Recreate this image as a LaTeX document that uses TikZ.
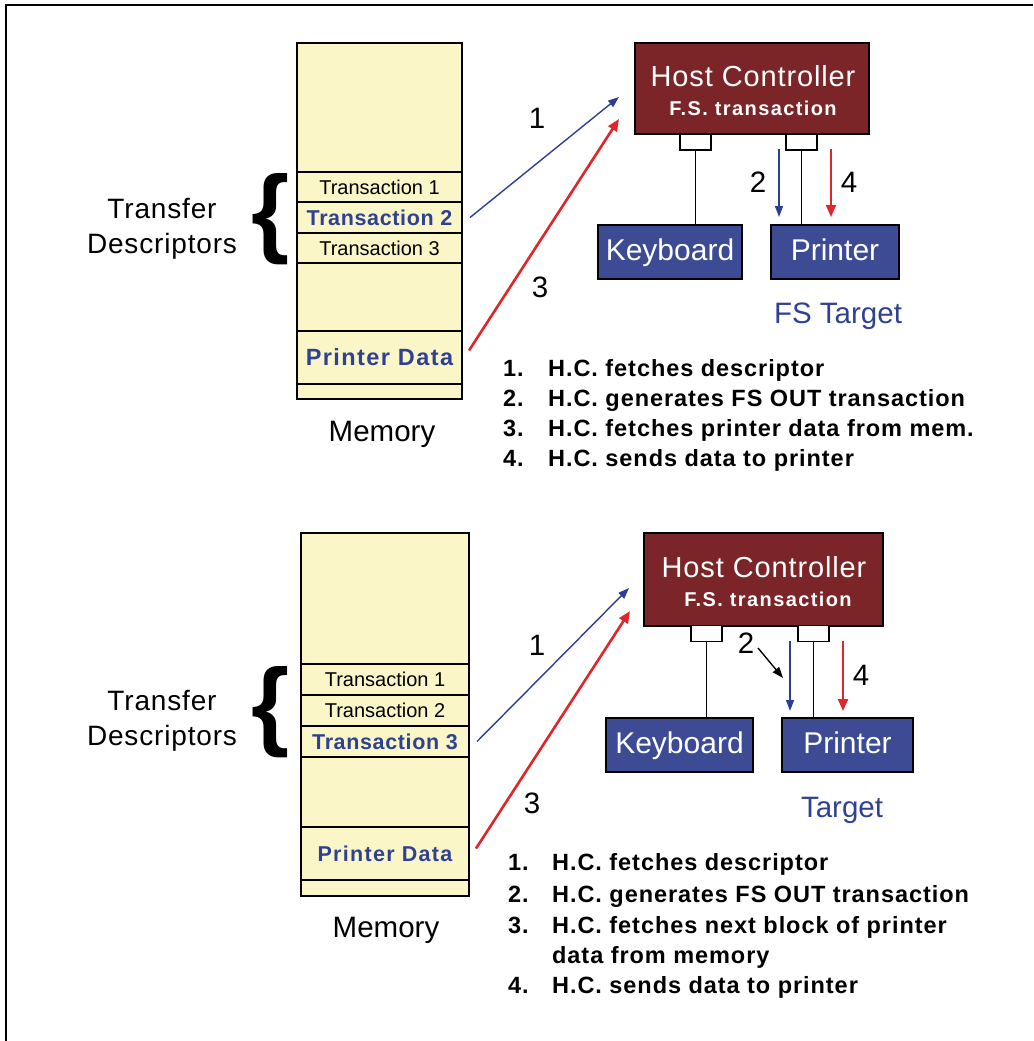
\documentclass[tikz,border=0pt]{standalone}
\usepackage{fontspec}
\setmainfont{Liberation Sans}
\newfontfamily\trackA[LetterSpace=3]{Liberation Sans}
\newfontfamily\trackB[LetterSpace=4]{Liberation Sans}
\newfontfamily\trackP[LetterSpace=6]{Liberation Sans}
\newfontfamily\trackC[LetterSpace=7]{Liberation Sans}
\usetikzlibrary{arrows.meta}
\definecolor{memfill}{HTML}{FAF6C8}
\definecolor{hcred}{HTML}{7B2529}
\definecolor{devblue}{HTML}{3C4B94}
\definecolor{txtblue}{HTML}{2F4192}
\definecolor{arrblue}{HTML}{2C3F94}
\definecolor{arrred}{HTML}{E0262B}
\newcommand\fsz[1]{\fontsize{#1}{#1}\selectfont}
\begin{document}
\begin{tikzpicture}[x=1pt,y=-1pt,
  cell/.style={draw=black, fill=memfill, line width=1.2pt, inner sep=0pt, outer sep=0pt, anchor=north west},
  plaintx/.style={font=\fsz{20}},
  boldtx/.style={font=\trackA\bfseries\fsz{21.5}, text=txtblue},
  hcbox/.style={draw=black, fill=hcred, line width=1.2pt, inner sep=0pt},
  hctitle/.style={text=white, font=\trackA\fsz{29}, inner sep=0pt},
  hcsub/.style={text=white, font=\trackC\bfseries\fsz{20}, inner sep=0pt},
  port/.style={draw=black, fill=white, line width=1.2pt, inner sep=0pt, minimum width=31pt, minimum height=16pt},
  dev/.style={draw=black, fill=devblue, line width=1.2pt, inner sep=0pt, text=white, font=\fsz{30}, minimum height=54pt, text height=16pt, text depth=0pt},
  wire/.style={line width=1.4pt},
  lbl/.style={font=\fsz{29.5}, inner sep=0pt},
  targ/.style={font=\fsz{29.5}, text=txtblue, inner sep=0pt},
  tdesc/.style={font=\trackA\fsz{28}, align=center, inner sep=0pt},
  brace/.style={font=\bfseries\fsz{98}, inner sep=0pt},
  item/.style={font=\trackB\bfseries\fsz{23.5}, inner sep=0pt, anchor=base west},
  bluearr/.style={draw=arrblue, line width=1.4pt, -{Triangle[length=11pt,width=8pt]}},
  redarr/.style={draw=arrred, line width=2.6pt, -{Triangle[length=12pt,width=10pt]}},
  blackarr/.style={draw=black, line width=1.4pt, -{Triangle[length=11pt,width=8pt]}}
]
\useasboundingbox (0,0) rectangle (1033,1041);
% frame
\draw[line width=2.6pt] (6,1041) -- (6,5) -- (1033,5);

% ================= upper scene =================
% memory column
\node[cell, minimum width=165pt, minimum height=129pt] (ma0) at (297,43) {};
\node[cell, minimum width=165pt, minimum height=30pt, plaintx] (ta1) at (297,172) {Transaction 1};
\node[cell, minimum width=165pt, minimum height=31pt, boldtx] (ta2) at (297,202) {Transaction 2};
\node[cell, minimum width=165pt, minimum height=30pt, plaintx] (ta3) at (297,233) {Transaction 3};
\node[cell, minimum width=165pt, minimum height=68pt] (ma4) at (297,263) {};
\node[cell, minimum width=165pt, minimum height=53pt, font=\trackP\bfseries\fsz{23.5}, text=txtblue] (pda) at (297,331) {Printer Data};
\node[cell, minimum width=165pt, minimum height=15pt] (ma6) at (297,384) {};
\node[lbl] (mema) at (382,434) {Memory};
\node[brace] (bra) at (271,219) {\{};
\node[tdesc] (tda) at (162,229) {Transfer\\[7pt]Descriptors};

% host controller and devices
\node[hcbox, minimum width=234pt, minimum height=91pt] (hca) at (752,88.5) {};
\node[hctitle] (hcat) at (753,76) {Host Controller};
\node[hcsub] (hcas) at (753,108) {F.S. transaction};
\node[port] (pa1) at (695.5,142) {};
\node[port] (pa2) at (801.5,142) {};
\node[dev, minimum width=144pt] (kba) at (670,252) {Keyboard};
\node[dev, minimum width=128pt] (pra) at (835,252) {Printer};
\draw[wire] (pa1.south) -- (pa1.south |- kba.north);
\draw[wire] (pa2.south) -- (pa2.south |- pra.north);
\node[targ] (fsa) at (838,316) {FS Target};

% transfer steps
\coordinate (a1e) at (619,97);
\coordinate (a3e) at (619,119);
\draw[bluearr] ([xshift=8pt]ta2.east) -- (a1e);
\draw[redarr] ([xshift=7pt,yshift=7pt]pda.east) -- (a3e);
\node[lbl] (na1) at (537,118) {1};
\node[lbl] (na3) at (540,287) {3};
\coordinate (a2s) at (779,149);
\coordinate (a2e) at (779,217);
\coordinate (a4s) at (831,149);
\coordinate (a4e) at (831,217);
\draw[bluearr] (a2s) -- (a2e);
\draw[redarr, line width=2pt] (a4s) -- (a4e);
\node[lbl] (na2) at (758,182) {2};
\node[lbl] (na4) at (849,182) {4};

% step list
\node[item] (la1n) at (503,376) {1.};
\node[item] (la1t) at (548,376) {H.C. fetches descriptor};
\node[item] (la2n) at (503,406) {2.};
\node[item] (la2t) at (548,406) {H.C. generates FS OUT transaction};
\node[item] (la3n) at (503,436) {3.};
\node[item] (la3t) at (548,436) {H.C. fetches printer data from mem.};
\node[item] (la4n) at (503,466) {4.};
\node[item] (la4t) at (548,466) {H.C. sends data to printer};

% ================= lower scene =================
\node[cell, minimum width=168pt, minimum height=131pt] (mb0) at (301,533) {};
\node[cell, minimum width=168pt, minimum height=31pt, plaintx] (tb1) at (301,664) {Transaction 1};
\node[cell, minimum width=168pt, minimum height=31pt, plaintx] (tb2) at (301,695) {Transaction 2};
\node[cell, minimum width=168pt, minimum height=31pt, boldtx] (tb3) at (301,726) {Transaction 3};
\node[cell, minimum width=168pt, minimum height=70pt] (mb4) at (301,757) {};
\node[cell, minimum width=168pt, minimum height=53pt, font=\trackP\bfseries\fsz{21.5}, text=txtblue] (pdb) at (301,827) {Printer Data};
\node[cell, minimum width=168pt, minimum height=16pt] (mb6) at (301,880) {};
\node[lbl] (memb) at (386,930) {Memory};
\node[brace] (brb) at (271,712) {\{};
\node[tdesc] (tdb) at (162,721) {Transfer\\[7pt]Descriptors};

\node[hcbox, minimum width=239pt, minimum height=93pt] (hcb) at (763.5,579.5) {};
\node[hctitle] (hcbt) at (764,567) {Host Controller};
\node[hcsub] (hcbs) at (768,599) {F.S. transaction};
\node[port] (pb1) at (706.5,633.5) {};
\node[port] (pb2) at (813.5,633.5) {};
\node[dev, minimum width=147pt] (kbb) at (679.5,745) {Keyboard};
\node[dev, minimum width=131pt] (prb) at (847.5,745) {Printer};
\draw[wire] (pb1.south) -- (pb1.south |- kbb.north);
\draw[wire] (pb2.south) -- (pb2.south |- prb.north);
\node[targ] (tgb) at (842,810) {Target};

\coordinate (b1e) at (629,588);
\coordinate (b3e) at (630,611);
\draw[bluearr] ([xshift=8pt]tb3.east) -- (b1e);
\draw[redarr] ([xshift=7pt,yshift=5pt]pdb.east) -- (b3e);
\node[lbl] (nb1) at (537,645) {1};
\node[lbl] (nb3) at (532,803) {3};
\coordinate (b2s) at (790,641);
\coordinate (b2e) at (790,711);
\coordinate (b4s) at (843,641);
\coordinate (b4e) at (843,711);
\draw[bluearr] (b2s) -- (b2e);
\draw[redarr, line width=2pt] (b4s) -- (b4e);
\node[lbl] (nb2) at (746,643) {2};
\node[lbl] (nb4) at (861,675) {4};
\coordinate (k2e) at (783,678);
\draw[blackarr] ([xshift=12pt,yshift=-5pt]nb2.center) -- (k2e);

\node[item] (lb1n) at (508,870) {1.};
\node[item] (lb1t) at (552,870) {H.C. fetches descriptor};
\node[item] (lb2n) at (508,902) {2.};
\node[item] (lb2t) at (552,902) {H.C. generates FS OUT transaction};
\node[item] (lb3n) at (508,933) {3.};
\node[item] (lb3t) at (552,933) {H.C. fetches next block of printer};
\node[item] (lb3u) at (552,963) {data from memory};
\node[item] (lb4n) at (508,993) {4.};
\node[item] (lb4t) at (552,993) {H.C. sends data to printer};
\end{tikzpicture}
\end{document}
